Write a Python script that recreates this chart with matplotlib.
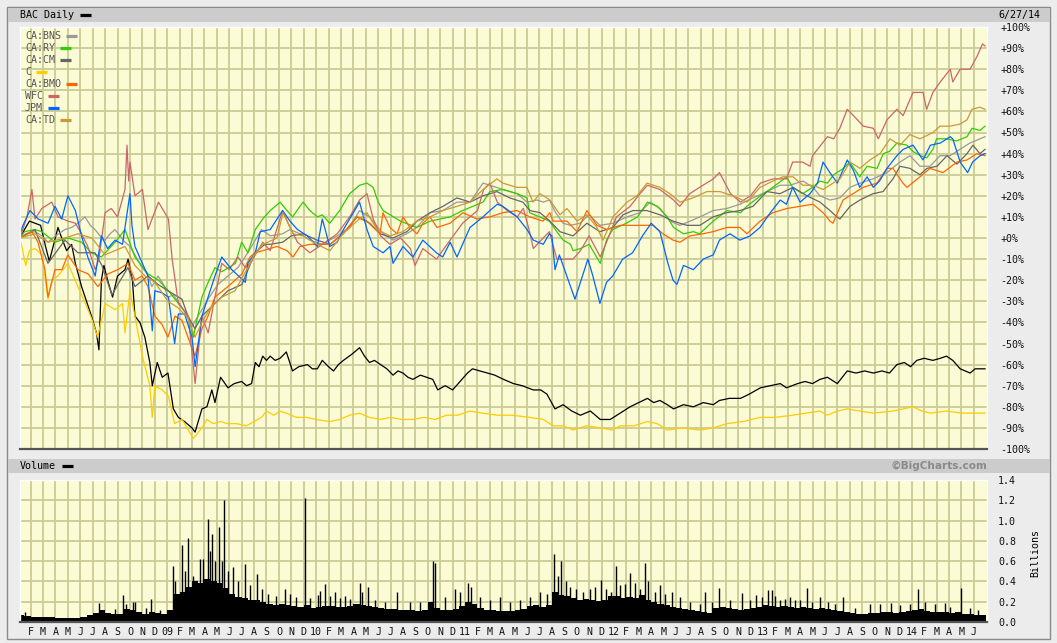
import matplotlib
matplotlib.use("Agg")
import matplotlib.pyplot as plt
from matplotlib.lines import Line2D
from matplotlib.patches import Rectangle
import numpy as np

plt.rcParams["font.family"] = ["DejaVu Sans Mono", "DejaVu Sans"]

# x = months counted from 1 Jan 2008 (1 = Feb 2008 ... 77 = Jun 2014), y = % change
bac = [(0.14, 0), (0.5, 4), (0.9, 8), (1.35, 7), (1.8, 6), (2.2, -4), (2.5, -11), (2.9, -2), (3.2, 5),
       (3.5, 0), (3.9, -6), (4.3, -3), (4.6, -12), (5.1, -23), (5.5, -30), (5.9, -37), (6.3, -45),
       (6.5, -53), (6.7, -20), (6.9, -13), (7.2, -20), (7.6, -28), (8.0, -18), (8.6, -15), (8.85, -10),
       (9.2, -20), (9.4, -37), (9.8, -40), (10.2, -47), (10.6, -59), (10.8, -70), (11.2, -59), (11.6, -66),
       (12.06, -64), (12.5, -81), (12.9, -85), (13.4, -87), (14.0, -90), (14.25, -92), (14.8, -81),
       (15.2, -80), (15.6, -72), (15.85, -78), (16.3, -66), (16.9, -71), (17.4, -69), (18.0, -68),
       (18.4, -70), (18.8, -69), (19.1, -59), (19.4, -61), (19.7, -56), (20.0, -58), (20.3, -56),
       (20.7, -58), (21.1, -57), (21.6, -54), (22.1, -63), (22.6, -61), (23.3, -60), (23.7, -62),
       (24.1, -62), (24.5, -58), (25.0, -61), (25.4, -63), (25.8, -60), (26.2, -58), (26.9, -55),
       (27.5, -52), (27.9, -56), (28.3, -59), (28.7, -58), (29.2, -60), (29.7, -62), (30.2, -65),
       (30.6, -63), (31.0, -64), (31.4, -66), (31.8, -67), (32.4, -65), (32.9, -66), (33.4, -67),
       (33.8, -72), (34.4, -70), (35.0, -72), (35.6, -68), (36.2, -64), (36.6, -62), (37.2, -63),
       (37.8, -64), (38.4, -65), (39.1, -67), (39.9, -69), (40.6, -70), (41.5, -72), (42.1, -72),
       (42.6, -74), (43.25, -81), (43.9, -79), (44.6, -82), (45.3, -84), (46.1, -82), (46.5, -84),
       (46.9, -86), (47.7, -86), (48.5, -83), (49.3, -80), (50.0, -78), (50.7, -76), (51.2, -78),
       (51.7, -77), (52.3, -79), (52.8, -81), (53.6, -79), (54.4, -80), (55.2, -78), (56.0, -79),
       (56.5, -77), (57.3, -76), (58.2, -76), (58.9, -74), (59.8, -71), (60.6, -70), (61.4, -69),
       (61.9, -71), (62.8, -69), (63.4, -68), (64.0, -69), (64.6, -67), (65.2, -66), (66.0, -69),
       (66.8, -63), (67.5, -64), (68.2, -63), (68.9, -64), (69.6, -63), (70.2, -64), (70.8, -60),
       (71.4, -59), (71.9, -61), (72.4, -58), (73.0, -57), (73.7, -58), (74.3, -57), (74.8, -56),
       (75.3, -58), (75.9, -62), (76.7, -64), (77.1, -62), (77.5, -62), (77.9, -62)]

bns = [(0.14, 0), (0.6, 2), (1.35, 3), (1.9, 1), (2.4, -2), (3.0, 1), (3.76, 4), (4.3, 5), (4.81, 7),
       (5.37, 10), (5.8, 6), (6.18, 4), (6.6, 1), (6.99, -1), (7.4, 2), (7.79, 4), (8.2, 1), (8.6, -2),
       (9.0, -4), (9.4, -8), (9.97, -14), (10.4, -17), (10.77, -23), (11.26, -18), (11.7, -22),
       (12.06, -28), (12.5, -27), (12.87, -30), (13.43, -35), (13.99, -42), (14.48, -37), (14.9, -33),
       (15.29, -29), (16.09, -22), (16.9, -18), (17.7, -14), (18.5, -7), (19.0, -2), (19.6, 4),
       (20.3, 1), (21.3, 2), (21.9, 4), (22.7, 2), (23.5, -1), (24.5, -3), (25.1, -1), (25.7, 1),
       (26.7, 5), (27.5, 13), (28.3, 10), (29.4, 2), (30.2, -1), (31.3, 2), (32.1, 5), (33.2, 12),
       (34.2, 13), (35.35, 17), (36.4, 17), (37.45, 26), (38.0, 25), (39.05, 23), (40.2, 21),
       (41.0, 17), (41.8, 18), (42.3, 17), (42.8, 18), (43.3, 12), (43.9, 7), (44.5, 6), (45.26, 7),
       (45.99, 11), (46.87, 6), (47.92, 7), (49.05, 10), (50.1, 12), (50.9, 17), (51.71, 14),
       (52.51, 8), (53.32, 6), (54.13, 8), (54.93, 10), (55.98, 13), (57.1, 14), (58.15, 16),
       (59.2, 19), (60.33, 22), (61.38, 25), (62.18, 25), (63.23, 27), (64.04, 24), (64.6, 20),
       (65.41, 18), (66.21, 19), (67.02, 24), (67.82, 26), (68.87, 28), (70.0, 31), (71.05, 36),
       (71.85, 39), (72.66, 34), (73.47, 34), (74.27, 39), (75.08, 39), (75.88, 42), (76.69, 45),
       (77.49, 47), (77.9, 48)]

ry = [(0.14, 0), (0.5, 3), (1.35, 4), (1.9, 3), (2.96, -2), (4.0, 0), (5.1, -2), (5.9, -7), (6.7, -9),
      (7.8, -2), (8.6, 4), (9.4, -9), (10.45, -17), (11.3, -20), (12.1, -25), (12.9, -31), (13.7, -37),
      (14.1, -47), (14.8, -28), (15.3, -21), (15.85, -14), (16.4, -16), (17.5, -12), (18.0, -2),
      (18.5, -7), (19.1, 4), (19.7, 9), (20.3, 13), (21.1, 17), (21.65, 13), (22.1, 10), (22.7, 15),
      (22.95, 17), (23.5, 13), (24.1, 10), (24.5, 11), (25.1, 7), (25.9, 13), (26.7, 21), (27.5, 25),
      (28.1, 26), (28.6, 24), (29.0, 17), (29.4, 13), (30.8, 8), (32.1, 5), (33.2, 8), (34.8, 10),
      (35.8, 13), (37.45, 17), (38.0, 22), (39.05, 23), (40.2, 21), (41.0, 19), (41.2, 12), (42.0, 10),
      (42.8, 8), (43.4, 3), (43.9, -1), (44.5, -3), (44.7, -6), (45.3, -5), (46.0, -3), (46.6, -9),
      (46.9, -12), (47.4, -1), (47.9, 4), (49.0, 7), (49.9, 10), (50.7, 17), (51.5, 15), (52.3, 10),
      (52.8, 5), (53.6, 2), (54.4, 3), (54.9, 2), (56.0, 8), (57.1, 13), (58.2, 12), (58.7, 15),
      (59.8, 20), (60.8, 24), (61.9, 29), (62.4, 24), (63.2, 21), (64.0, 24), (64.6, 27), (65.2, 26),
      (65.7, 30), (66.5, 33), (67.0, 36), (67.8, 29), (68.4, 34), (69.2, 33), (69.7, 40), (70.2, 41),
      (70.8, 45), (71.6, 44), (72.1, 41), (72.7, 39), (73.2, 38), (73.7, 42), (74.0, 47), (74.8, 47),
      (75.6, 46), (76.45, 48), (76.85, 52), (77.5, 51), (77.9, 53)]

cm = [(0.14, 0), (1.35, 4), (2.39, -12), (3.76, -1), (4.81, -7), (6.18, -7), (6.74, -13), (7.55, -27),
      (8.03, -22), (8.84, -14), (9.4, -23), (10.45, -18), (11.26, -22), (12.06, -25), (13.19, -29),
      (13.67, -37), (14.24, -43), (14.8, -37), (15.85, -31), (16.9, -25), (18.03, -22), (19.07, -7),
      (19.88, -3), (20.3, -3), (21.3, -2), (22.0, 1), (22.95, 2), (24.07, -1), (25.12, -3), (26.17, 2),
      (27.29, 10), (28.1, 8), (29.15, 2), (30.19, 0), (31.32, 3), (32.13, 8), (33.18, 12), (34.22, 15),
      (35.35, 19), (36.4, 17), (37.45, 20), (38.57, 22), (39.61, 19), (40.66, 17), (41.23, 13),
      (42.04, 12), (42.84, 8), (43.65, 3), (44.7, 1), (45.82, 7), (46.87, 3), (47.92, 5), (48.73, 11),
      (49.53, 13), (50.66, 13), (51.71, 11), (52.76, 8), (53.88, 6), (54.93, 6), (55.98, 10),
      (57.1, 12), (58.15, 13), (59.2, 15), (60.33, 22), (61.38, 21), (62.42, 24), (63.55, 20),
      (64.6, 17), (65.41, 13), (65.97, 10), (66.21, 9), (67.02, 15), (67.82, 18), (68.87, 21),
      (69.68, 22), (70.48, 28), (71.05, 34), (71.85, 33), (72.66, 30), (73.22, 33), (74.03, 34),
      (74.84, 39), (75.64, 35), (76.45, 40), (76.93, 44), (77.49, 40), (77.9, 42)]

citi = [(0.14, 0), (0.6, -13), (0.9, -6), (1.35, -5), (1.9, -8), (2.4, -29), (2.7, -20), (3.2, -18),
        (4.0, -12), (4.8, -23), (5.4, -31), (5.9, -38), (6.4, -47), (7.0, -31), (7.8, -34), (8.4, -31),
        (8.6, -45), (9.0, -25), (9.4, -37), (10.0, -56), (10.6, -70), (10.8, -85), (11.0, -70),
        (11.6, -72), (12.1, -75), (12.6, -88), (13.2, -86), (13.7, -91), (14.1, -95), (14.8, -90),
        (15.2, -86), (15.7, -88), (16.3, -87), (16.9, -88), (17.6, -88), (18.4, -89), (19.0, -87),
        (19.6, -85), (20.0, -82), (20.6, -84), (21.1, -82), (21.6, -83), (22.4, -85), (23.2, -85),
        (24.0, -86), (25.1, -87), (25.9, -86), (26.7, -84), (27.5, -83), (28.3, -85), (29.2, -86),
        (30.0, -85), (30.9, -86), (31.8, -86), (32.7, -85), (33.6, -86), (34.5, -84), (35.4, -84),
        (36.4, -82), (37.4, -83), (38.6, -84), (39.8, -84), (41.2, -85), (42.3, -86), (43.1, -89),
        (43.9, -89), (44.7, -91), (45.8, -89), (46.9, -90), (47.9, -91), (48.5, -89), (49.6, -89),
        (50.7, -87), (51.5, -88), (52.3, -91), (53.5, -90), (54.9, -91), (56.0, -90), (57.1, -88),
        (58.4, -87), (59.8, -85), (61.0, -85), (62.4, -84), (63.5, -83), (64.6, -82), (65.2, -84),
        (66.0, -82), (66.8, -81), (67.8, -82), (68.9, -83), (70.5, -82), (71.3, -81), (72.1, -80),
        (72.8, -82), (73.5, -83), (74.8, -82), (76.0, -83), (77.9, -83)]

bmo = [(0.14, 0), (1.1, 3), (1.59, -2), (2.15, -15), (2.39, -28), (2.96, -15), (3.52, -15), (4.0, -8),
       (4.81, -15), (5.62, -17), (6.42, -23), (7.23, -17), (8.03, -15), (8.84, -12), (9.4, -20),
       (9.97, -18), (10.45, -23), (11.01, -37), (11.58, -41), (12.06, -47), (12.63, -37), (13.19, -39),
       (13.67, -47), (14.24, -56), (14.8, -43), (15.29, -37), (15.85, -28), (16.9, -23), (18.03, -17),
       (18.67, -9), (19.07, -7), (19.72, -6), (20.85, -4), (21.65, -6), (22.14, -9), (22.7, -4),
       (23.51, -3), (24.3, -3), (25.12, -3), (26.17, 2), (27.29, 10), (28.34, 7), (29.15, 2),
       (29.39, 12), (29.95, 5), (30.52, 2), (31.0, 10), (31.56, 5), (32.13, 2), (32.61, 7), (33.18, 10),
       (33.74, 5), (34.79, 7), (35.83, 12), (36.96, 9), (38.01, 10), (39.05, 12), (40.18, 13),
       (41.23, 10), (42.28, 8), (42.84, 12), (43.09, 8), (44.21, 8), (45.02, 3), (45.82, 13),
       (46.63, 6), (47.44, 4), (48.49, 6), (49.29, 6), (50.1, 6), (51.14, 6), (51.95, 2), (52.76, -1),
       (53.32, -2), (54.13, 1), (55.17, 2), (55.98, 3), (57.1, 5), (58.15, 5), (58.72, 2), (59.77, 8),
       (60.81, 12), (61.94, 14), (62.99, 15), (64.04, 16), (64.85, 12), (65.41, 8), (65.65, 7),
       (66.46, 18), (67.26, 21), (68.07, 24), (69.19, 26), (70.0, 33), (70.48, 33), (71.29, 26),
       (71.61, 24), (72.66, 29), (73.47, 33), (74.51, 31), (75.64, 36), (76.45, 37), (77.25, 40),
       (77.9, 39)]

wfc = [(0.14, 0), (0.7, 10), (1.1, 23), (1.35, 9), (1.9, 14), (2.7, 17), (3.2, 10), (4.0, 8), (4.6, 7),
       (5.1, 2), (5.6, -4), (6.2, -15), (6.5, -10), (7.0, 12), (7.5, 14), (8.0, 10), (8.6, 23),
       (8.76, 44), (8.9, 27), (9.0, 36), (9.4, 20), (10.0, 23), (10.45, 4), (11.3, 17), (12.1, 9),
       (12.4, -10), (12.9, -31), (13.7, -37), (14.25, -69), (14.8, -37), (15.3, -45), (15.85, -28),
       (16.4, -12), (17.0, -15), (17.7, -9), (18.3, -14), (18.7, -12), (19.7, -2), (20.3, -6),
       (21.3, 13), (21.9, 5), (22.5, -2), (23.5, -7), (24.5, -3), (25.7, 2), (26.7, 10), (27.5, 18),
       (28.1, 21), (28.6, 9), (29.2, 1), (29.95, -3), (30.8, 0), (31.6, -5), (31.97, -13), (32.6, -5),
       (33.7, -10), (34.8, -1), (35.8, 7), (37.0, 13), (37.5, 23), (38.0, 26), (38.6, 17), (39.4, 13),
       (40.2, 10), (40.7, 14), (41.2, 3), (41.5, -5), (42.3, 0), (42.8, 3), (43.4, -10), (44.7, -10),
       (45.3, -6), (46.0, 1), (46.9, -9), (47.4, -2), (48.2, 10), (49.3, 15), (50.1, 21), (50.7, 25),
       (51.7, 23), (52.8, 18), (53.3, 15), (54.1, 21), (54.9, 24), (56.0, 28), (56.5, 31), (57.4, 21),
       (58.2, 17), (59.0, 20), (59.8, 26), (60.8, 28), (61.9, 28), (62.4, 36), (63.2, 36), (63.8, 34),
       (64.0, 39), (65.2, 48), (65.7, 47), (66.2, 52), (66.8, 61), (67.3, 58), (68.1, 53), (68.9, 52),
       (69.3, 47), (70.0, 56), (70.8, 61), (71.3, 58), (72.1, 69), (72.9, 69), (73.2, 61), (73.7, 69),
       (74.3, 74), (75.1, 80), (75.3, 74), (75.9, 80), (76.7, 80), (77.25, 86), (77.7, 92), (77.9, 91)]

jpm = [(0.14, 0), (0.3, 5), (0.94, 13), (1.6, 9), (2.4, 7), (2.96, 15), (3.5, 9), (4.0, 20), (4.6, 13),
       (5.1, 1), (5.6, -9), (6.2, -18), (6.7, 1), (7.2, -5), (7.8, -1), (8.4, -3), (9.0, 21), (9.16, 6),
       (9.4, -4), (10.0, -12), (10.45, -18), (10.8, -44), (11.0, -25), (11.6, -26), (12.1, -28),
       (12.6, -50), (12.9, -36), (13.4, -36), (14.0, -47), (14.25, -61), (14.8, -37), (15.3, -28),
       (15.85, -18), (16.4, -9), (17.2, -15), (18.3, -21), (18.5, -12), (19.1, -7), (19.5, 3),
       (20.3, 4), (21.3, 13), (21.9, 8), (22.5, 4), (23.3, 1), (24.1, -4), (24.5, 9), (25.1, -4),
       (25.7, -2), (26.2, 4), (27.5, 17), (28.1, 4), (28.6, -4), (29.4, -7), (29.95, -4), (30.2, -12),
       (31.0, -4), (31.8, -9), (32.6, -1), (33.7, -7), (34.2, -9), (34.8, -2), (35.35, -9), (36.4, 5),
       (37.45, 10), (38.0, 13), (38.6, 16), (39.05, 15), (40.2, 10), (41.0, 4), (41.5, -1), (42.3, -3),
       (42.8, 2), (43.0, 1), (43.25, -15), (43.6, -8), (44.2, -18), (44.86, -29), (45.3, -21),
       (45.9, -10), (46.3, -18), (46.87, -31), (47.4, -21), (47.9, -18), (48.7, -10), (49.5, -7),
       (50.3, 1), (51.0, 7), (51.7, 3), (52.35, -12), (52.76, -20), (53.08, -22), (53.6, -13),
       (54.4, -15), (55.2, -10), (56.0, -8), (56.5, -1), (57.35, 2), (58.15, -1), (58.96, 1),
       (59.77, 5), (60.6, 12), (61.4, 18), (61.9, 16), (62.4, 24), (63.0, 17), (63.8, 21), (64.4, 26),
       (64.85, 36), (65.4, 31), (66.0, 26), (66.8, 37), (67.3, 32), (67.8, 24), (68.4, 29), (68.9, 24),
       (69.4, 27), (70.0, 33), (70.8, 39), (71.3, 42), (72.1, 44), (72.9, 37), (73.5, 44), (74.3, 45),
       (75.1, 48), (75.3, 47), (75.9, 36), (76.5, 31), (76.9, 36), (77.5, 39), (77.9, 40)]

td = [(0.14, 0), (1.35, 2), (2.39, -2), (3.76, 0), (4.81, 2), (5.94, 0), (6.99, -8), (7.79, -6),
      (8.6, -4), (9.4, -13), (10.21, -18), (11.01, -21), (12.06, -30), (12.87, -33), (13.67, -38),
      (14.24, -47), (14.8, -40), (15.5, -33), (16.41, -28), (17.46, -25), (18.51, -14), (19.0, -8),
      (19.72, -3), (20.85, 0), (21.33, 12), (22.14, 2), (22.95, 1), (24.07, -3), (25.12, -6),
      (26.17, 2), (27.29, 8), (28.1, 12), (28.91, 4), (29.95, 1), (31.0, 3), (32.13, 8), (33.18, 10),
      (34.22, 13), (35.35, 15), (36.4, 17), (37.45, 23), (38.57, 28), (39.05, 26), (40.18, 24),
      (40.99, 24), (41.47, 17), (42.04, 21), (42.84, 18), (43.65, 11), (44.21, 14), (45.02, 8),
      (45.82, 11), (46.63, 5), (47.12, -1), (47.92, 10), (49.05, 17), (49.86, 20), (50.66, 26),
      (51.71, 24), (52.51, 21), (53.32, 17), (54.37, 19), (55.49, 22), (56.54, 22), (57.59, 20),
      (58.72, 17), (59.77, 24), (60.81, 27), (61.62, 29), (62.42, 29), (63.23, 25), (64.04, 25),
      (64.85, 23), (65.65, 26), (66.21, 28), (67.02, 36), (67.82, 33), (68.63, 37), (69.44, 40),
      (70.24, 47), (71.05, 44), (71.85, 49), (72.66, 47), (73.71, 50), (74.27, 53), (75.08, 53),
      (75.88, 54), (76.45, 56), (76.85, 61), (77.49, 62), (77.9, 61)]

# BAC volume in billions: two readings per month, Jan 2008 .. Jun 2014
vol_base = [0.07, 0.06, 0.05, 0.05, 0.05, 0.05, 0.04, 0.04, 0.04, 0.04, 0.05, 0.07,
            0.09, 0.12, 0.09, 0.08, 0.08, 0.13, 0.12, 0.10, 0.08, 0.10, 0.09, 0.08,
            0.12, 0.28, 0.30, 0.35, 0.40, 0.38, 0.42, 0.40, 0.38, 0.34, 0.28, 0.25,
            0.24, 0.22, 0.22, 0.20, 0.18, 0.17, 0.18, 0.17, 0.16, 0.15, 0.17, 0.14,
            0.15, 0.16, 0.16, 0.15, 0.15, 0.16, 0.18, 0.17, 0.16, 0.15, 0.14, 0.13,
            0.13, 0.12, 0.12, 0.12, 0.11, 0.12, 0.20, 0.14, 0.12, 0.12, 0.13, 0.16,
            0.20, 0.18, 0.14, 0.12, 0.12, 0.11, 0.11, 0.11, 0.12, 0.13, 0.16, 0.17,
            0.15, 0.17, 0.30, 0.27, 0.26, 0.24, 0.22, 0.23, 0.22, 0.21, 0.22, 0.26,
            0.26, 0.24, 0.25, 0.24, 0.27, 0.22, 0.20, 0.18, 0.17, 0.15, 0.14, 0.13,
            0.12, 0.11, 0.10, 0.09, 0.14, 0.15, 0.14, 0.13, 0.12, 0.13, 0.14, 0.15,
            0.17, 0.16, 0.15, 0.16, 0.15, 0.14, 0.15, 0.14, 0.13, 0.14, 0.13, 0.12,
            0.11, 0.10, 0.09, 0.08, 0.08, 0.09, 0.09, 0.10, 0.10, 0.09, 0.10, 0.11,
            0.12, 0.13, 0.11, 0.10, 0.10, 0.10, 0.09, 0.10, 0.08, 0.08, 0.07, 0.07]

# single heavy-volume days (month position, billions)
vol_spikes = [(0.54, 0.10), (6.5, 0.19), (7.8, 0.13), (8.44, 0.27), (8.68, 0.18), (9.24, 0.20),
              (9.4, 0.20), (10.3, 0.14), (10.69, 0.23), (11.42, 0.12), (12.47, 0.55), (12.63, 0.40),
              (13.19, 0.76), (13.43, 0.50), (13.67, 0.83), (14.08, 0.45), (14.64, 0.62), (14.88, 0.62),
              (15.29, 1.02), (15.45, 0.70), (15.6, 0.87), (15.85, 0.60), (16.17, 0.94), (16.41, 0.60),
              (16.57, 1.20), (16.9, 0.50), (17.3, 0.54), (17.7, 0.40), (18.27, 0.57), (18.67, 0.36),
              (19.23, 0.47), (19.64, 0.33), (20.12, 0.28), (20.77, 0.26), (21.49, 0.33), (21.89, 0.28),
              (22.37, 0.25), (23.1, 1.22), (23.51, 0.24), (24.15, 0.27), (24.3, 0.31), (24.71, 0.37),
              (25.12, 0.26), (25.52, 0.30), (25.92, 0.24), (26.33, 0.26), (26.73, 0.23), (27.54, 0.38),
              (27.7, 0.30), (28.18, 0.35), (28.74, 0.22), (29.55, 0.20), (30.52, 0.30), (31.56, 0.20),
              (32.37, 0.20), (33.42, 0.60), (33.58, 0.58), (34.38, 0.25), (35.19, 0.33), (35.59, 0.30),
              (36.24, 0.38), (36.48, 0.35), (37.2, 0.25), (38.0, 0.22), (38.81, 0.25), (39.61, 0.20),
              (40.42, 0.22), (41.2, 0.25), (42.04, 0.30), (42.6, 0.28), (43.17, 0.67), (43.49, 0.45),
              (43.73, 0.60), (44.13, 0.40), (44.45, 0.35), (44.94, 0.33), (45.5, 0.30), (46.1, 0.33),
              (46.5, 0.35), (46.95, 0.41), (47.35, 0.33), (47.75, 0.30), (48.16, 0.55), (48.5, 0.36),
              (48.9, 0.37), (49.29, 0.48), (49.7, 0.38), (50.1, 0.33), (50.5, 0.58), (50.74, 0.40),
              (51.3, 0.30), (51.7, 0.36), (52.1, 0.28), (52.67, 0.30), (53.3, 0.25), (54.1, 0.20),
              (54.93, 0.18), (55.33, 0.30), (55.9, 0.20), (56.46, 0.34), (57.35, 0.22), (58.31, 0.29),
              (58.96, 0.22), (59.45, 0.27), (59.93, 0.25), (60.41, 0.32), (60.73, 0.32), (60.97, 0.26),
              (61.38, 0.22), (61.78, 0.23), (62.18, 0.25), (62.58, 0.22), (62.99, 0.22), (63.55, 0.34),
              (63.96, 0.20), (64.6, 0.25), (65.25, 0.20), (65.82, 0.18), (66.46, 0.25), (67.42, 0.14),
              (68.63, 0.18), (69.44, 0.18), (70.32, 0.19), (71.05, 0.17), (71.85, 0.18), (72.5, 0.33),
              (73.06, 0.20), (73.87, 0.18), (74.67, 0.19), (75.08, 0.15), (75.96, 0.34), (76.69, 0.14),
              (77.33, 0.12)]

symbols = ["CA:BNS", "CA:RY", "CA:CM", "C", "CA:BMO", "WFC", "JPM", "CA:TD"]
colors = ["#999999", "#33cc00", "#666666", "#ffcc00", "#ff6600", "#cc6666", "#0066ff", "#cc9933"]

pct_labels = ["+100%", "+90%", "+80%", "+70%", "+60%", "+50%", "+40%", "+30%", "+20%", "+10%",
              "+0%", "-10%", "-20%", "-30%", "-40%", "-50%", "-60%", "-70%", "-80%", "-90%", "-100%"]
vol_labels = ["0.0", "0.2", "0.4", "0.6", "0.8", "1.0", "1.2", "1.4"]
month_labels = ("F M A M J J A S O N D "
                "09 F M A M J J A S O N D "
                "10 F M A M J J A S O N D "
                "11 F M A M J J A S O N D "
                "12 F M A M J J A S O N D "
                "13 F M A M J J A S O N D "
                "14 F M A M J").split()

W, H = 1057, 643
fig = plt.figure(figsize=(W / 100, H / 100), dpi=100)
fig.patch.set_facecolor("#ececec")


def box(x0, y0, x1, y1):
    # pixel rectangle -> figure fraction [left, bottom, width, height]
    return [x0 / W, 1 - y1 / H, (x1 - x0) / W, (y1 - y0) / H]


for b, fc, ec in [((7, 7, 1050, 639), "none", "#8a8a8a"),
                  ((8, 8, 1050, 22), "#cccccc", "none"),
                  ((8, 459, 1050, 473), "#cccccc", "none")]:
    l, bt, w, h = box(*b)
    fig.add_artist(Rectangle((l, bt), w, h, transform=fig.transFigure, fc=fc, ec=ec, lw=1))

ax = fig.add_axes(box(20, 27, 987, 449))
axv = fig.add_axes(box(20, 480, 987, 622))
for a in (ax, axv):
    a.set_facecolor("#fbfbd6")
    a.set_xlim(0.14, 78.06)
    a.set_xticks(range(1, 78))
    a.grid(True, color="#cbcb96", lw=1.3)
    a.set_axisbelow(True)
    a.yaxis.tick_right()
    a.tick_params(length=0, labelsize=7.2, colors="#111111")
    for s in a.spines.values():
        s.set_color("#ffffff")
        s.set_linewidth(1)
    a.spines["bottom"].set_color("#555555")
    a.spines["bottom"].set_linewidth(1.6)

# price panel
ax.set_ylim(-100, 100)
ax.set_yticks(range(100, -101, -10))
ax.set_yticklabels(pct_labels)
ax.tick_params(axis="y", pad=9.4)
ax.tick_params(axis="x", labelbottom=False)

ax.plot(*zip(*bac), color="black", lw=0.9)
for data, c in zip([bns, ry, cm, citi, bmo, wfc, jpm, td], colors):
    ax.plot(*zip(*data), color=c, lw=0.9)


def swatch(px0, px1, py, color):
    fig.add_artist(Line2D([px0 / W, px1 / W], [1 - py / H] * 2, color=color, lw=2.3,
                          solid_capstyle="butt", transform=fig.transFigure))


# legend: name followed by a short colour bar
renderer = fig.canvas.get_renderer()
for i, (name, c) in enumerate(zip(symbols, colors)):
    py = 36 + 12 * i
    t = fig.text(25 / W, 1 - py / H, name, va="center", size=7.2, color="#555555")
    x_end = t.get_window_extent(renderer).x1
    swatch(x_end + 5, x_end + 16, py, c)

# volume panel
base_x = np.arange(0.25, 78, 0.5)
axv.bar(base_x, vol_base, width=0.5, color="black", lw=0)
sx, sv = zip(*vol_spikes)
axv.vlines(sx, 0, sv, color="black", lw=1)
axv.set_ylim(0, 1.4)
axv.set_yticks(np.arange(0, 1.41, 0.2))
axv.set_yticklabels(vol_labels)
axv.tick_params(axis="y", pad=8)
axv.set_xticklabels(month_labels)
axv.tick_params(axis="x", pad=3.5)

# title bars
fig.text(20 / W, 1 - 15 / H, "BAC Daily", va="center", size=7.2)
swatch(80, 91, 15, "black")
fig.text(1040 / W, 1 - 15 / H, "6/27/14", ha="right", va="center", size=7.2)
fig.text(20 / W, 1 - 466 / H, "Volume", va="center", size=7.2)
swatch(62, 73, 466, "black")
fig.text(987 / W, 1 - 466 / H, "\u00a9BigCharts.com", ha="right", va="center", size=7.6,
         weight="bold", color="#8a8a8a", family="DejaVu Sans")
fig.text(1035 / W, 1 - 553 / H, "Billions", rotation=90, ha="center", va="center", size=7.2)

fig.savefig("out.png", dpi=100, facecolor=fig.get_facecolor())
